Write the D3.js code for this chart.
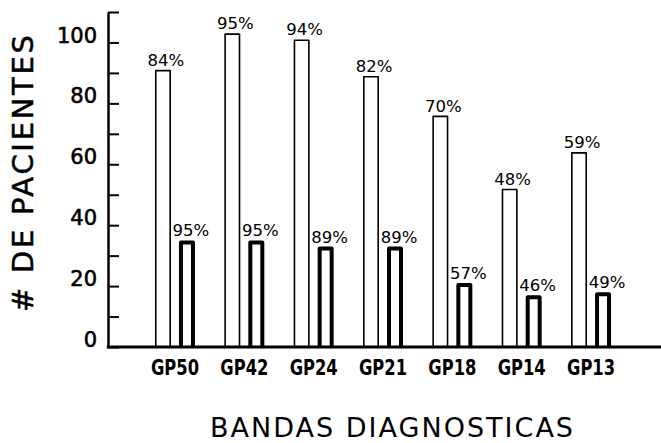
<!DOCTYPE html>
<html>
<head>
<meta charset="utf-8">
<script src="https://cdn.jsdelivr.net/npm/d3@7"></script>
<style>
  body { margin: 0; background: #fff; }
  svg { display: block; font-family: "DejaVu Sans", sans-serif; }
</style>
</head>
<body>
<svg id="chart" width="661" height="443"></svg>
<script>
// data
var bandas = ['GP50', 'GP42', 'GP24', 'GP21', 'GP18', 'GP14', 'GP13'];
var series = ['total', 'positivos'];
var totales = [91, 103, 101, 89, 76, 52, 64];
var positivos = [35, 35, 33, 33, 21, 17, 18];
var pctTotales = ['84%', '95%', '94%', '82%', '70%', '48%', '59%'];
var pctPositivos = ['95%', '95%', '89%', '89%', '57%', '46%', '49%'];
var yTicks = [0, 10, 20, 30, 40, 50, 60, 70, 80, 90, 100, 110];

var svg = d3.select('#chart');

var y = d3.scaleLinear().domain([0, 110]).range([347, 12]);

var x0 = d3.scaleBand()
	.domain(bandas)
	.range([140.3, 625.7])
	.padding(0);

var bw = x0.bandwidth();
var x1 = d3.scaleBand()
	.domain(series)
	.range([bw/2 - 20, bw/2 + 20])
	.paddingInner(1/3)
	.paddingOuter(0);

var rows = bandas.map(function(b, i) {
	return { banda: b, vals: [
		{ s: 'total', v: totales[i], pct: pctTotales[i] },
		{ s: 'positivos', v: positivos[i], pct: pctPositivos[i] }
	]};
});

// bars
var g = svg.selectAll('g.banda')
	.data(rows)
	.enter().append('g')
	.attr('class', 'banda')
	.attr('transform', function(d){ return 'translate(' + x0(d.banda) + ',0)'; });

g.selectAll('path.bar')
	.data(function(d){ return d.vals; })
	.enter().append('path')
	.attr('class', 'bar')
	.attr('fill', '#fff')
	.attr('stroke', '#000')
	.attr('stroke-width', function(d){ return d.s == 'total' ? 1.6 : 4; })
	.attr('stroke-linejoin', 'round')
	.attr('d', function(d){
		var sw = d.s == 'total' ? 0.8 : 2;
		var l = x1(d.s) + sw, r = x1(d.s) + x1.bandwidth() - sw;
		var t = y(d.v) + sw, b = y(0);
		return 'M' + l + ',' + b + 'L' + l + ',' + t + 'L' + r + ',' + t + 'L' + r + ',' + b;
	});

g.selectAll('text.pct')
	.data(function(d){ return d.vals; })
	.enter().append('text')
	.attr('class', 'pct')
	.attr('x', function(d){ return x1(d.s) + x1.bandwidth()/2 + (d.s == 'total' ? 3 : 4); })
	.attr('y', function(d){ return y(d.v) - 4; })
	.attr('text-anchor', 'middle')
	.style('font-size', '16.5px')
	.text(function(d){ return d.pct; });

// y axis
var yAxis = d3.axisLeft(y)
	.tickValues(yTicks)
	.tickSizeInner(-11)
	.tickSizeOuter(0)
	.tickPadding(11)
	.tickFormat(function(d){ return (d % 20 == 0 && d <= 100) ? d : ''; });

var ya = svg.append('g')
	.attr('transform', 'translate(108,0)')
	.call(yAxis);
ya.select('.domain').attr('stroke-width', 2.5);
ya.selectAll('.tick line').attr('stroke-width', 2);
ya.selectAll('.tick text')
	.attr('dy', '-0.02em')
	.style('font-size', '21px')
	.style('font-family', '"DejaVu Sans", sans-serif')
	.attr('fill', '#000')
	.attr('stroke', '#000')
	.attr('stroke-width', 0.6);

// x axis
var xAxis = d3.axisBottom(x0).tickSize(0).tickPadding(13);
var xa = svg.append('g')
	.attr('transform', 'translate(0,347)')
	.call(xAxis);
xa.select('.domain').remove();
xa.selectAll('.tick text')
	.style('font-family', '"DejaVu Sans", sans-serif')
	.style('font-weight', 'bold')
	.style('font-size', '21px')
	.attr('textLength', 48)
	.attr('lengthAdjust', 'spacingAndGlyphs')
	.attr('fill', '#000');

svg.append('line')
	.attr('x1', 106.8).attr('x2', 661)
	.attr('y1', y(0)).attr('y2', y(0))
	.attr('stroke', '#000')
	.attr('stroke-width', 3);

// titles
svg.append('text')
	.attr('x', 210)
	.attr('y', 437)
	.attr('textLength', 363)
	.attr('lengthAdjust', 'spacing')
	.style('font-size', '27px')
	.text('BANDAS DIAGNOSTICAS');

svg.append('text')
	.attr('transform', 'translate(33,173.5) rotate(-90)')
	.attr('text-anchor', 'middle')
	.attr('textLength', 277)
	.attr('lengthAdjust', 'spacing')
	.style('font-size', '29px')
	.attr('stroke', '#000')
	.attr('stroke-width', 0.5)
	.text('# DE PACIENTES');
</script>
</body>
</html>
